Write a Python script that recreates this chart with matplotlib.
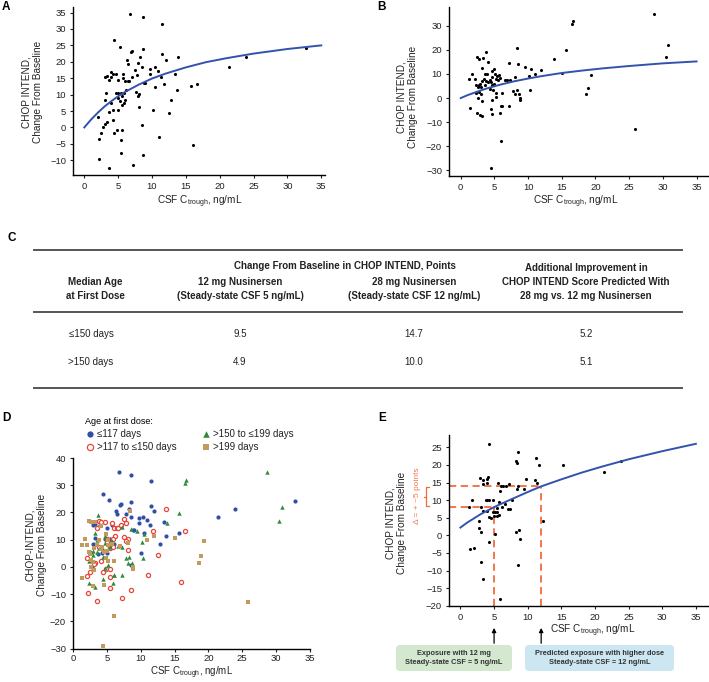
import matplotlib
matplotlib.use("Agg")
import matplotlib.pyplot as plt
from matplotlib.patches import FancyBboxPatch

plt.rcParams['font.family'] = ['Liberation Sans', 'DejaVu Sans']
plt.rcParams['mathtext.fontset'] = 'custom'
plt.rcParams['mathtext.rm'] = 'Liberation Sans'

# ---------------- data ----------------
# panel A (median age <=150 days), split by age group for panel D
le117_x = [6.75, 8.6, 11.5, 4.4, 5.3, 7.1, 6.9, 8.6, 11.5, 6.3, 6.5, 8.2, 7.9, 12.0, 8.5, 9.7,
           10.4, 10.9, 9.7, 11.4, 13.4, 3.0, 3.3, 4.0, 5.0, 5.7, 8.8, 9.0, 10.5, 15.7, 13.7, 3.25,
           4.7, 5.4, 5.6, 3.0, 6.0, 12.8, 3.7, 4.3, 5.0, 10.1, 8.5, 2.8, 21.4, 23.9, 32.8]
le117_y = [34.7, 33.6, 31.6, 26.6, 24.5, 23.2, 22.9, 24.0, 22.5, 20.5, 19.4, 21.4, 19.5, 20.5, 18.3, 17.9,
           18.5, 17.3, 16.2, 15.5, 16.3, 15.5, 15.8, 15.4, 14.4, 15.2, 13.4, 13.4, 12.4, 12.5, 11.5, 10.6,
           10.4, 10.4, 9.5, 8.3, 8.3, 8.3, 4.8, 5.2, 5.2, 5.2, 0.7, 0.1, 18.3, 21.4, 24.2]
gt117_x = [13.8, 7.5, 3.9, 4.2, 4.7, 3.6, 5.7, 6.0, 6.5, 6.65, 7.1, 7.8, 11.8, 16.6, 5.05, 6.2,
           5.9, 5.0, 8.1, 7.6, 7.9, 3.9, 5.5, 5.9, 5.3, 8.1, 2.0, 12.5, 3.3, 3.05, 4.2, 2.5,
           2.1, 4.4, 4.8, 5.5, 5.4, 11.1, 16.0, 5.4, 2.2, 8.6, 3.6, 7.2]
gt117_y = [21.4, 17.5, 16.8, 16.3, 16.3, 14.4, 16.2, 14.2, 14.3, 14.3, 15.5, 16.0, 13.3, 13.3, 10.4, 11.5,
           10.4, 9.1, 10.1, 10.9, 9.6, 7.4, 6.9, 7.3, 8.1, 6.3, 3.3, 4.3, 1.6, 1.1, 2.2, -1.8,
           -3.4, -1.8, -0.9, -0.9, -3.8, -2.9, -5.4, -7.9, -9.5, -8.4, -12.5, -11.6]

# panel B (median age >150 days), split by age group for panel D
gt150_x = [3.7, 3.2, 7.2, 8.5, 9.5, 10.5, 10.2, 13.9, 3.6, 4.7, 5.7, 4.7, 5.5, 3.8, 4.5, 2.7,
           2.9, 3.6, 7.3, 8.3, 8.65, 7.8, 8.1, 10.3, 4.4, 2.3, 4.7, 5.2, 2.4, 3.2, 4.5, 6.0,
           6.1, 5.9, 7.2, 15.6, 16.5, 16.7, 28.7, 30.4, 30.8, 3.0, 5.4, 6.6]
gt150_y = [19.1, 12.6, 14.5, 14.0, 13.0, 12.0, 9.0, 16.0, 9.9, 11.4, 9.5, 8.8, 7.3, 6.9, 6.5, 5.3,
           6.0, 5.3, 7.3, 3.5, 1.5, 3.1, 1.6, 3.4, 3.7, 2.3, -0.6, 0.5, -6.0, -7.5, -4.4, -3.1,
           -3.1, -6.0, -3.1, 19.9, 30.7, 31.8, 35.0, 17.0, 22.0, 4.5, 9.0, 7.5]
gt199_x = [8.4, 2.4, 2.7, 3.3, 4.1, 11.0, 11.9, 15.0, 1.7, 1.3, 2.1, 3.9, 5.1, 4.3, 5.2, 5.8,
           4.1, 2.5, 3.1, 4.6, 5.0, 6.9, 8.1, 8.8, 8.85, 6.1, 4.8, 5.2, 2.7, 3.0, 1.4, 2.6,
           3.1, 2.9, 4.6, 6.0, 4.45, 19.3, 18.9, 18.6, 25.8, 3.5, 4.9, 2.3]
gt199_y = [20.6, 16.9, 16.4, 16.5, 15.1, 9.8, 11.5, 10.5, 10.1, 8.0, 8.0, 9.8, 9.8, 7.3, 8.0, 8.3,
           6.6, 4.6, 6.9, 5.3, 5.8, 7.6, 8.9, 0.1, -0.8, 2.0, 3.2, 2.3, 2.6, 1.8, -4.0, -0.15,
           -1.1, -7.1, -6.5, -18.0, -29.2, 9.5, 4.0, 1.5, -12.9, 7.9, 12.0, 5.5]

# panel E
e_x = [4.3, 8.5, 8.3, 8.4, 11.2, 11.7, 15.2, 21.4, 23.9, 2.9, 3.3, 3.9, 4.1, 3.4, 3.9, 5.6,
       6.0, 6.4, 6.8, 7.2, 8.5, 8.4, 9.7, 9.5, 11.1, 11.4, 5.9, 1.7, 1.3, 3.8, 4.0, 4.2,
       4.9, 5.7, 3.1, 5.4, 6.6, 6.2, 7.0, 7.3, 7.7, 3.3, 3.9, 4.2, 4.5, 4.8, 5.2, 5.4,
       5.0, 5.5, 5.7, 2.7, 2.8, 3.0, 5.1, 4.3, 1.4, 2.0, 3.0, 3.4, 5.9, 8.6, 8.3, 8.7,
       8.8, 12.3]
e_y = [26.0, 23.6, 21.0, 20.5, 22.1, 20.1, 20.0, 18.0, 21.0, 16.2, 15.7, 16.1, 16.6, 14.7, 15.0, 15.0,
       14.1, 14.1, 14.1, 14.6, 14.0, 13.1, 16.0, 13.1, 15.6, 15.0, 12.6, 10.0, 8.0, 10.0, 10.0, 10.0,
       10.0, 9.5, 8.0, 7.8, 9.0, 8.0, 7.4, 7.4, 10.0, 7.0, 6.8, 5.3, 4.8, 6.5, 6.5, 6.7,
       5.5, 5.5, 5.7, 4.0, 2.0, 1.0, 0.4, -2.0, -4.0, -3.5, -7.5, -12.5, -18.0, -8.5, 0.9, 1.4,
       -1.0, 4.0]

# fitted exposure-response curves
curve_x = [0, 1, 2, 3, 4, 5, 6, 8, 10, 12, 15, 18, 21, 25, 30, 35]
curve_a = [0, 2.4, 4.5, 6.4, 8.0, 9.5, 10.8, 13.0, 14.9, 16.4, 18.3, 19.9, 21.1, 22.5, 23.9, 25.0]
curve_b = [0, 1.2, 2.2, 3.2, 4.1, 4.9, 5.65, 7.0, 8.1, 9.1, 10.4, 11.4, 12.3, 13.3, 14.4, 15.2]
curve_e = [2.2, 3.6, 4.8, 6.0, 7.0, 8.0, 8.9, 10.6, 12.3, 13.9, 15.9, 17.8, 19.5, 21.6, 23.9, 26.0]

# table C
age_groups = ['\u2264150 days', '>150 days']
chg_12mg = ['9.5', '4.9']
chg_28mg = ['14.7', '10.0']
extra_gain = ['5.2', '5.1']

# panel E reference exposures / responses
csf_12mg, csf_high = 5, 12
resp_12mg, resp_high = 8.0, 14.0

# ---------------- figure ----------------
W, H = 709, 682
fig = plt.figure(figsize=(W / 100, H / 100), dpi=100)


def rect(x0, y_bottom, w, h):
    return [x0 / W, 1 - y_bottom / H, w / W, h / H]


# overlay in pixel coordinates for table, labels, boxes
ov = fig.add_axes([0, 0, 1, 1])
ov.set_xlim(0, W)
ov.set_ylim(H, 0)
ov.axis('off')

BLUE = '#3253ad'
TXT = '#222222'
xlab = r'CSF C$_{\mathregular{trough}}$, ng/mL'


def style(ax, pad=2.5):
    ax.set_facecolor('none')
    for s in ['top', 'right']:
        ax.spines[s].set_visible(False)
    for s in ['left', 'bottom']:
        ax.spines[s].set_linewidth(1.0)
    ax.tick_params(labelsize=6.8, length=2.5, width=0.8, pad=pad, colors=TXT)
    ax.set_xticks(range(0, 36, 5))


# ---- A ----
axA = fig.add_axes(rect(73, 175, 252, 168))
style(axA)
axA.scatter(le117_x + gt117_x, le117_y + gt117_y, s=5, color='black', lw=0)
axA.plot(curve_x, curve_a, color=BLUE, lw=1.4)
axA.set_xlim(-1.67, 35.55)
axA.set_ylim(-14.5, 36.7)
axA.set_yticks(range(-10, 36, 5))

# ---- B ----
axB = fig.add_axes(rect(449, 175.7, 259, 169))
style(axB)
axB.scatter(gt150_x + gt199_x, gt150_y + gt199_y, s=5, color='black', lw=0)
axB.plot(curve_x, curve_b, color=BLUE, lw=1.4)
axB.set_xlim(-1.74, 36.7)
axB.set_ylim(-32.2, 37.9)
axB.set_yticks(range(-30, 31, 10))

# ---- D ----
axD = fig.add_axes(rect(73, 648.5, 237, 190.5))
style(axD)
axD.tick_params(axis='x', pad=1.5)
h1 = axD.scatter(le117_x, le117_y, s=9, color='#2f4fa8', lw=0, label='\u2264117 days')
h2 = axD.scatter(gt117_x, gt117_y, s=9, facecolor='white', edgecolor='#e8473a', lw=0.9,
                 label='>117 to \u2264150 days')
h3 = axD.scatter(gt150_x, gt150_y, s=10, marker='^', color='#2f8a3c', lw=0,
                 label='>150 to \u2264199 days')
h4 = axD.scatter(gt199_x, gt199_y, s=10, marker='s', color='#c29a5e', lw=0, label='>199 days')
axD.set_xlim(0, 35)
axD.set_ylim(-30, 40)
axD.set_yticks(range(-30, 41, 10))
leg = fig.legend(handles=[h1, h2, h3, h4], loc='upper left', ncol=2, frameon=False,
                 bbox_to_anchor=(80 / W, 1 - 412 / H), title='Age at first dose:',
                 alignment='left', fontsize=7, title_fontsize=6.5, handletextpad=0.2,
                 columnspacing=2.6, labelspacing=0.3, borderpad=0, handlelength=1.0,
                 markerscale=1.5)
for t in leg.get_texts():
    t.set_color(TXT)

# ---- E ----
axE = fig.add_axes(rect(449, 605.7, 259, 170.7))
style(axE)
axE.scatter(e_x, e_y, s=5, color='black', lw=0, zorder=3)
axE.plot(curve_x, curve_e, color=BLUE, lw=1.4, zorder=4)
axE.set_xlim(-1.7, 36.8)
axE.set_ylim(-20, 28.5)
axE.set_yticks(range(-20, 26, 5))
OR = '#f26b3c'
dash = dict(color=OR, lw=1.3, ls=(0, (4, 2.5)), zorder=2)
axE.hlines([resp_12mg, resp_high], -1.7, [csf_12mg, csf_high], **dash)
axE.vlines([csf_12mg, csf_high], -20, [resp_12mg, resp_high], **dash)
tr = axE.get_yaxis_transform()
bx = -0.088
axE.plot([bx + 0.012, bx, bx, bx + 0.012], [resp_high - 0.3, resp_high - 0.3,
                                             resp_12mg + 0.3, resp_12mg + 0.3],
         transform=tr, color=OR, lw=0.9, clip_on=False)
axE.plot([bx - 0.01, bx], [(resp_12mg + resp_high) / 2] * 2, transform=tr, color=OR,
         lw=0.9, clip_on=False)
axE.text(-0.12, 11.3, '\u0394 = + ~5 points', transform=tr, rotation=90, ha='center',
         va='center', fontsize=6, color='#f07a52')

# arrows under E axis
xt = axE.get_xaxis_transform()
for xv in [csf_12mg, csf_high]:
    axE.annotate('', xy=(xv, -0.13), xytext=(xv, -0.22), xycoords=xt, textcoords=xt,
                 arrowprops=dict(arrowstyle='-|>', color='black', lw=0.9,
                                 mutation_scale=6, shrinkA=0, shrinkB=0))

# boxes
for x0, x1, col, l1, l2 in [(396, 512, '#d3e8cf', 'Exposure with 12 mg',
                             'Steady-state CSF = 5 ng/mL'),
                            (525, 674, '#cce6f2', 'Predicted exposure with higher dose',
                             'Steady-state CSF = 12 ng/mL')]:
    ov.add_patch(FancyBboxPatch((x0, 645), x1 - x0, 26,
                                boxstyle='round,pad=0,rounding_size=4', fc=col, ec='none'))
    ov.text((x0 + x1) / 2, 653.5, l1, ha='center', va='center', fontsize=5.3,
            fontweight='bold', color='#333333')
    ov.text((x0 + x1) / 2, 662, l2, ha='center', va='center', fontsize=5.3,
            fontweight='bold', color='#333333')

# axis labels
lab = dict(fontsize=7.2, color=TXT)
ylab = 'CHOP INTEND,\nChange From Baseline'
ov.text(32, 92, ylab, rotation=90, ha='center', va='center', multialignment='center', **lab)
ov.text(200, 202, xlab, ha='center', va='center', **lab)
ov.text(407, 97, ylab, rotation=90, ha='center', va='center', multialignment='center', **lab)
ov.text(576, 202, xlab, ha='center', va='center', **lab)
ov.text(36, 545, 'CHOP-INTEND,\nChange From Baseline', rotation=90, ha='center', va='center',
        multialignment='center', **lab)
ov.text(192, 672.5, xlab, ha='center', va='center', fontsize=7, color=TXT)
ov.text(396, 523, ylab, rotation=90, ha='center', va='center', multialignment='center', **lab)
ov.text(550, 631, xlab, ha='left', va='center', **lab)

# panel letters
for ch, x, y in [('A', 6, 7), ('B', 382, 7), ('C', 12, 238), ('D', 6, 418), ('E', 382, 418)]:
    ov.text(x, y, ch, fontsize=8.5, fontweight='bold', ha='center', va='center')

# ---- table C ----
tb = dict(ha='center', va='center', fontsize=7, color=TXT)
for yl in [250, 312, 388]:
    ov.plot([34, 682], [yl, yl], color='#555555', lw=1.4)
ov.text(345, 266, 'Change From Baseline in CHOP INTEND, Points', fontweight='bold', **tb)
ov.text(95, 282, 'Median Age', fontweight='bold', **tb)
ov.text(95, 296, 'at First Dose', fontweight='bold', **tb)
ov.text(240, 282, '12 mg Nusinersen', fontweight='bold', **tb)
ov.text(240, 296, '(Steady-state CSF 5 ng/mL)', fontweight='bold', **tb)
ov.text(414, 282, '28 mg Nusinersen', fontweight='bold', **tb)
ov.text(414, 296, '(Steady-state CSF 12 ng/mL)', fontweight='bold', **tb)
ov.text(586, 268, 'Additional Improvement in', fontweight='bold', **tb)
ov.text(586, 282, 'CHOP INTEND Score Predicted With', fontweight='bold', **tb)
ov.text(586, 296, '28 mg vs. 12 mg Nusinersen', fontweight='bold', **tb)
for i, yr in enumerate([334, 362]):
    ov.text(91, yr, age_groups[i], **tb)
    ov.text(240, yr, chg_12mg[i], **tb)
    ov.text(414, yr, chg_28mg[i], **tb)
    ov.text(586, yr, extra_gain[i], **tb)

fig.savefig('out.png', dpi=100)
